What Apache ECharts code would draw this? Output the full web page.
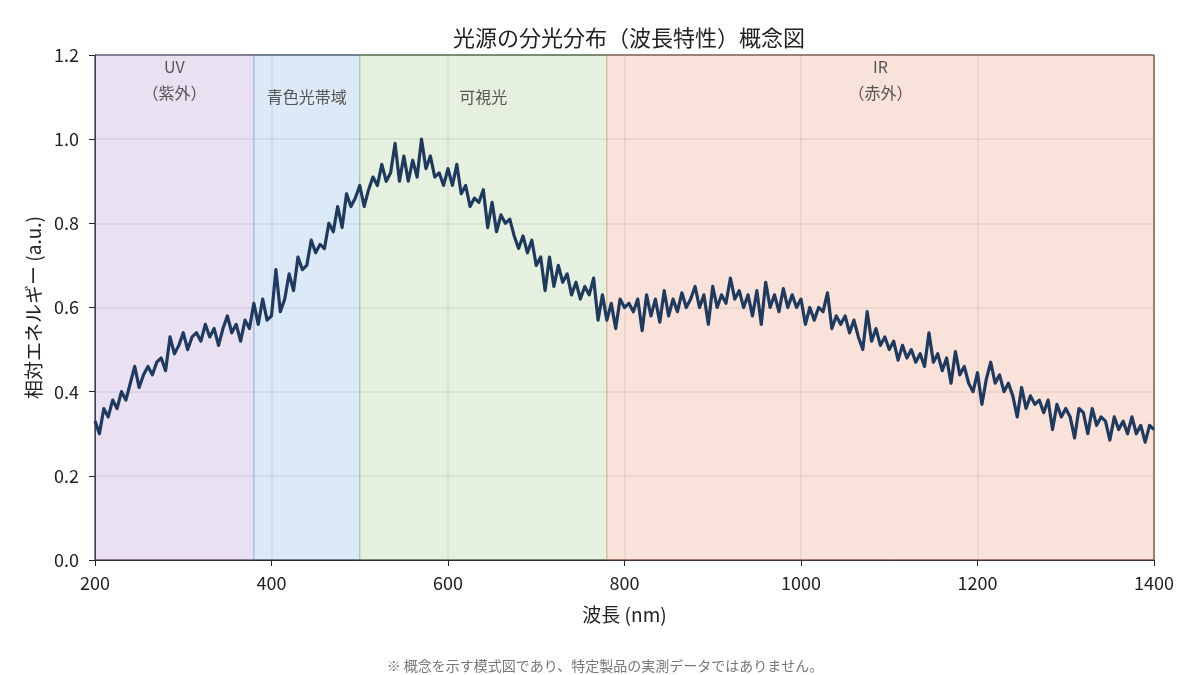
<!DOCTYPE html>
<html>
<head>
<meta charset="utf-8">
<title>光源の分光分布</title>
<script src="https://cdn.jsdelivr.net/npm/echarts@6/dist/echarts.min.js"></script>
<style>
	html, body { margin: 0; padding: 0; background: #fff; }
	#chart { width: 1200px; height: 675px; }
</style>
</head>
<body>
<div id="chart"></div>
<script>
	// 波長の刻み（nm）
	const wlStart = 200
	const wlStep = 5
	// 相対エネルギー（5nm ごと、図から読み取り）
	const energy = [
		0.33, 0.30, 0.36, 0.34, 0.38, 0.36, 0.40, 0.38, 0.42, 0.46,
		0.41, 0.44, 0.46, 0.44, 0.47, 0.48, 0.45, 0.53, 0.49, 0.51,
		0.54, 0.50, 0.53, 0.54, 0.52, 0.56, 0.53, 0.55, 0.51, 0.55,
		0.58, 0.54, 0.56, 0.52, 0.57, 0.55, 0.61, 0.56, 0.62, 0.57,
		0.58, 0.69, 0.59, 0.62, 0.68, 0.64, 0.72, 0.69, 0.70, 0.76,
		0.73, 0.75, 0.74, 0.80, 0.78, 0.84, 0.79, 0.87, 0.84, 0.86,
		0.89, 0.84, 0.88, 0.91, 0.89, 0.94, 0.90, 0.92, 0.99, 0.90,
		0.96, 0.90, 0.95, 0.91, 1.00, 0.93, 0.96, 0.91, 0.92, 0.89,
		0.93, 0.89, 0.94, 0.87, 0.89, 0.84, 0.86, 0.85, 0.88, 0.79,
		0.85, 0.78, 0.82, 0.80, 0.81, 0.77, 0.74, 0.77, 0.73, 0.76,
		0.70, 0.72, 0.64, 0.72, 0.65, 0.70, 0.66, 0.68, 0.63, 0.66,
		0.62, 0.65, 0.63, 0.67, 0.57, 0.63, 0.57, 0.61, 0.55, 0.62,
		0.60, 0.61, 0.59, 0.62, 0.545, 0.63, 0.58, 0.62, 0.565, 0.64,
		0.58, 0.62, 0.59, 0.635, 0.60, 0.62, 0.65, 0.60, 0.63, 0.56,
		0.65, 0.60, 0.63, 0.61, 0.67, 0.62, 0.64, 0.60, 0.63, 0.58,
		0.64, 0.56, 0.66, 0.60, 0.63, 0.59, 0.645, 0.60, 0.63, 0.60,
		0.62, 0.56, 0.60, 0.57, 0.60, 0.59, 0.635, 0.55, 0.58, 0.56,
		0.58, 0.54, 0.57, 0.53, 0.50, 0.59, 0.52, 0.55, 0.51, 0.53,
		0.50, 0.52, 0.475, 0.51, 0.48, 0.50, 0.47, 0.49, 0.46, 0.54,
		0.47, 0.49, 0.45, 0.48, 0.42, 0.495, 0.44, 0.46, 0.42, 0.40,
		0.445, 0.37, 0.43, 0.47, 0.42, 0.44, 0.40, 0.42, 0.39, 0.34,
		0.41, 0.36, 0.39, 0.37, 0.38, 0.35, 0.38, 0.31, 0.37, 0.34,
		0.36, 0.34, 0.29, 0.36, 0.35, 0.30, 0.36, 0.32, 0.34, 0.33,
		0.285, 0.34, 0.31, 0.33, 0.30, 0.34, 0.30, 0.32, 0.28, 0.32,
		0.31
	]
	// 帯域（開始 / 終了 nm、ラベル）
	const bandStart = [200, 380, 500, 780]
	const bandEnd = [380, 500, 780, 1400]
	const bandNames = ['UV\n（紫外）', '青色光帯域', '可視光', 'IR\n（赤外）']
	const bandColors = ['rgba(145,105,190,0.2)', 'rgba(22,115,202,0.15)', 'rgba(82,162,35,0.15)', 'rgba(220,110,70,0.2)']
	const bandEdges = ['rgba(145,105,190,0.35)', 'rgba(22,115,202,0.25)', 'rgba(82,162,35,0.25)', 'rgba(220,110,70,0.35)']
	const xTicks = [200, 400, 600, 800, 1000, 1200, 1400]
	const yTicks = [0, 0.2, 0.4, 0.6, 0.8, 1.0, 1.2]

	const font = '"Noto Sans CJK JP", "Noto Sans", sans-serif'

	const lineData = energy.map((v, i) => [wlStart + i * wlStep, v])

	const areaData = bandStart.map((s, i) => {
		const twoLine = bandNames[i].indexOf('\n') >= 0
		return [{
			xAxis: s,
			itemStyle: { color: bandColors[i], borderColor: bandEdges[i], borderWidth: 1 },
			label: {
				show: true,
				formatter: bandNames[i],
				position: 'insideTop',
				distance: twoLine ? -1 : 29,
				color: '#555',
				fontSize: 16,
				lineHeight: 26,
				fontFamily: font
			}
		}, { xAxis: bandEnd[i] }]
	})

	const chart = echarts.init(document.getElementById('chart'))
	chart.setOption({
		backgroundColor: '#fff',
		animation: false,
		textStyle: { fontFamily: font },
		title: [{
			text: '光源の分光分布（波長特性）概念図',
			left: 624, top: 22, textAlign: 'center',
			textStyle: { fontSize: 22, fontWeight: 'normal', color: '#222', fontFamily: font }
		}, {
			text: '※ 概念を示す模式図であり、特定製品の実測データではありません。',
			left: 600, top: 654, textAlign: 'center',
			textStyle: { fontSize: 14, fontWeight: 'normal', color: '#777', fontFamily: font }
		}],
		grid: {
			left: 95, right: 46, top: 55, bottom: 115,
			show: true, borderColor: '#222', borderWidth: 1, backgroundColor: 'transparent'
		},
		xAxis: {
			type: 'value',
			min: xTicks[0], max: xTicks[xTicks.length - 1], interval: 200,
			name: '波長 (nm)', nameLocation: 'middle', nameGap: 45,
			nameTextStyle: { fontSize: 19, color: '#222', fontFamily: font },
			axisLine: { show: true, lineStyle: { color: '#222', width: 1 } },
			axisTick: { show: true, length: 6, lineStyle: { color: '#222' } },
			axisLabel: {
				fontSize: 18, color: '#222', margin: 14, fontFamily: font,
				formatter: v => String(v)
			},
			splitLine: { show: true, lineStyle: { color: 'rgba(0,0,0,0.08)', width: 1.5 } }
		},
		yAxis: {
			type: 'value',
			min: yTicks[0], max: yTicks[yTicks.length - 1], interval: 0.2,
			name: '相対エネルギー (a.u.)', nameLocation: 'middle', nameGap: 50,
			nameTextStyle: { fontSize: 19, color: '#222', fontFamily: font },
			axisLine: { show: true, lineStyle: { color: '#222', width: 1 } },
			axisTick: { show: true, length: 6, lineStyle: { color: '#222' } },
			axisLabel: {
				fontSize: 18, color: '#222', margin: 16, fontFamily: font,
				formatter: v => v.toFixed(1)
			},
			splitLine: { show: true, lineStyle: { color: 'rgba(0,0,0,0.08)', width: 1.5 } }
		},
		series: [{
			// 帯域の背景
			type: 'line',
			data: [],
			silent: true,
			z: 1,
			markArea: { silent: true, data: areaData }
		}, {
			type: 'line',
			data: lineData,
			showSymbol: false,
			z: 3,
			lineStyle: { color: '#1f3a5f', width: 3.2, join: 'round' },
			itemStyle: { color: '#1f3a5f' }
		}]
	})
</script>
</body>
</html>
